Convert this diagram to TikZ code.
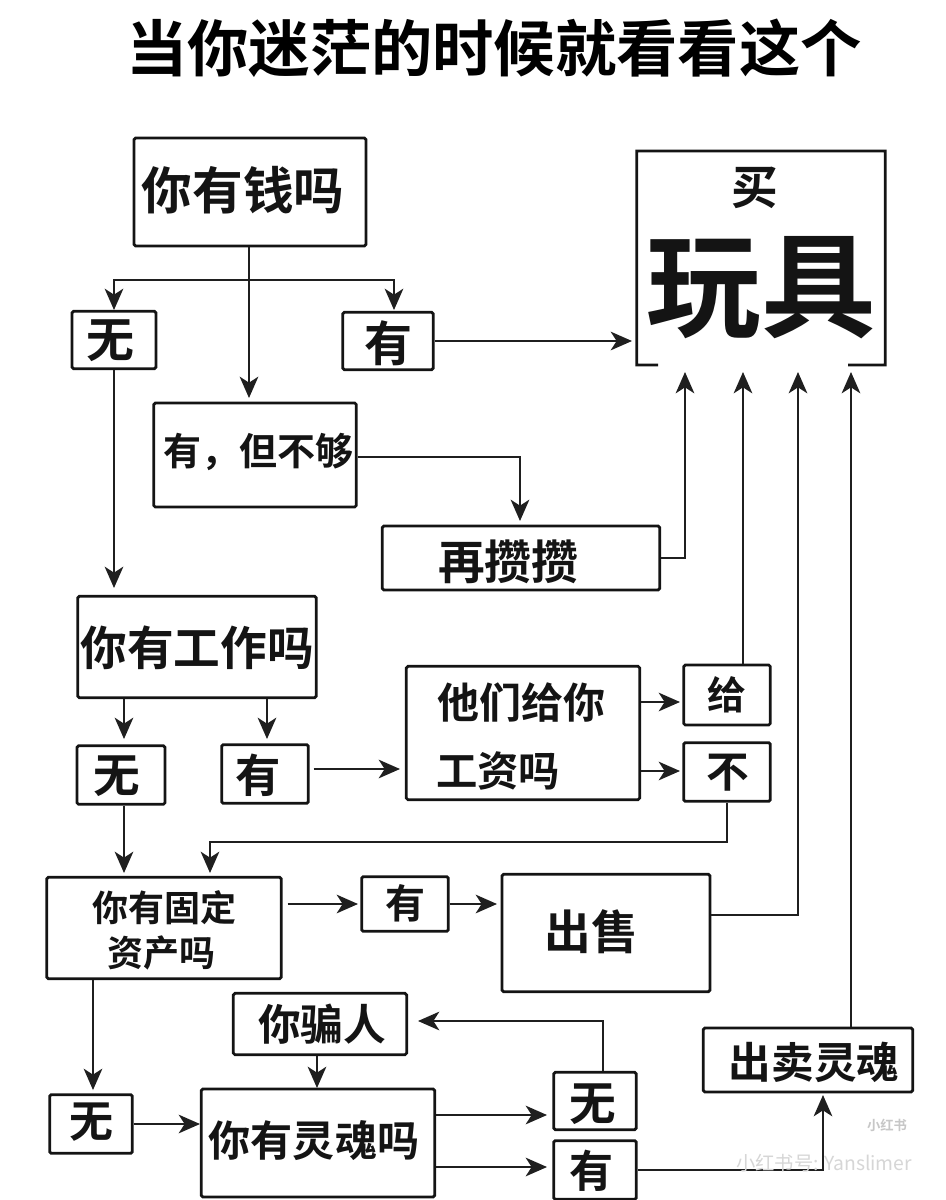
\documentclass[tikz,border=0pt]{standalone}
\usepackage{fontspec}
\newfontfamily\cjk{Noto Sans CJK SC}[BoldFont={Noto Sans CJK SC Bold}]
\usetikzlibrary{arrows.meta}
\tikzset{
 box/.style={draw=black!92,line width=2.1pt,fill=white,inner sep=0pt,rounded corners=1.2pt},
 lbl/.style={inner sep=0pt,text=black!92,align=center},
 conn/.style={draw=black!88,line width=1.3pt,-{Stealth[length=16pt,width=14pt,inset=4.5pt]}},
}
% name, box cx, cy, w, h, font size, text cx, cy, text
\newcommand{\bxt}[9]{%
 \node[box,minimum width=#4pt,minimum height=#5pt] (#1) at (#2,#3) {};
 \node[lbl,font=\cjk\bfseries\fontsize{#6}{#6}\selectfont] (#1t) at (#7,#8) {#9};}
\begin{document}
\begin{tikzpicture}[x=0.75pt,y=-0.75pt]
\useasboundingbox (0,0) rectangle (946,1200);
\fill[white] (0,0) rectangle (946,1200);
\node[lbl,font=\cjk\bfseries\fontsize{46}{46}\selectfont,text=black] (title) at (494,48) {当你迷茫的时候就看看这个};
\bxt{money}{250}{192}{174}{81}{38}{243}{190}{你有钱吗}
% the toy box is open along most of its bottom side
\node[minimum width=186pt,minimum height=160pt,inner sep=0pt] (toy) at (761,258) {};
\draw[black!92,line width=2.1pt] (658,365) -- (toy.south west) -- (toy.north west) -- (toy.north east) -- (toy.south east) -- (848,365);
\node[lbl,font=\cjk\bfseries\fontsize{35}{35}\selectfont] (buy) at (755,188) {买};
\node[lbl,font=\cjk\bfseries\fontsize{86}{86}\selectfont] (toyt) at (761,288) {玩具};
\bxt{no1}{114}{340}{63}{43}{36}{110}{341}{无}
\bxt{yes1}{388}{341}{68}{43}{36}{388}{343}{有}
\bxt{some}{255}{455}{152}{78}{28.5}{258}{452}{有，但不够}
\bxt{save}{521}{558}{208}{48}{35}{508}{562}{再攒攒}
\bxt{job}{197}{647}{179}{76}{35}{197}{648}{你有工作吗}
\bxt{no2}{121}{775}{66}{44}{35}{117}{776}{无}
\bxt{yes2}{265}{774}{65}{44}{34}{258}{775}{有}
\bxt{pay}{523}{733}{175}{100}{31.5}{521}{703}{他们给你}
\node[lbl,font=\cjk\bfseries\fontsize{31}{31}\selectfont] (pay2) at (498,771) {工资吗};
\bxt{give}{727}{695}{65}{45}{29}{727}{695}{给}
\bxt{nop}{727}{772}{65}{44}{32}{728}{773}{不}
\bxt{asset}{164}{928}{176}{76}{27}{164}{908}{你有固定}
\node[lbl,font=\cjk\bfseries\fontsize{27}{27}\selectfont] (asset2) at (161,953) {资产吗};
\bxt{yes3}{405}{904}{65}{41}{30}{405}{903}{有}
\bxt{sell}{606}{933}{156}{88}{35}{591}{932}{出售}
\bxt{cheat}{320}{1024}{130}{46}{32}{322}{1024}{你骗人}
\bxt{no3}{91}{1124}{62}{44}{33}{91}{1122}{无}
\bxt{soul}{318}{1143}{175}{81}{31.6}{314}{1141}{你有灵魂吗}
\bxt{no4}{595}{1101}{62}{43}{35}{593}{1104}{无}
\bxt{yes4}{595}{1170}{62}{44}{33}{591}{1171}{有}
\bxt{sellsoul}{808}{1060}{157}{48}{32}{814}{1062}{出卖灵魂}
% connectors
\coordinate (j1) at (249,280);
\draw[conn] (j1) -| (114,310);
\draw[conn] (j1) -| (394,310);
\draw[conn] (money.south -| 249,192) -- (249,398);
\draw[conn] (yes1.east) -- (632,341);
\draw[conn] (no1.south) -- (114,588);
\draw[conn] (some.east |- 0,457) -| (520,521);
\draw[conn] (save.east |- 0,558) -| (685,372);
\draw[conn] (give.north -| 743,670) -- (743,372);
\draw[conn] (job.south -| 124,685) -- (124,739);
\draw[conn] (job.south -| 267,685) -- (267,739);
\draw[conn] (yes2.east |- 0,769) ++(4,0) -- (400,769);
\draw[conn] (pay.east |- 0,702) -- (680,702);
\draw[conn] (pay.east |- 0,771) -- (680,771);
\draw[conn] (no2.south -| 124,0) -- (124,873);
\draw[conn] (nop.south) |- (210,842) -- (210,873);
\draw[conn] (asset.east |- 0,904) ++(5,0) -- (358,904);
\draw[conn] (yes3.east) -- (497,904);
\draw[conn] (sell.east |- 0,915) -| (798,372);
\draw[conn] (asset.south -| 93,966) -- (93,1090);
\draw[conn] (no3.east) -- (200,1124);
\draw[conn] (cheat.south -| 317,1047) -- (317,1088);
\draw[conn] (soul.east |- 0,1115) -- (547,1115);
\draw[conn] (soul.east |- 0,1167) -- (547,1167);
\draw[conn] (no4.north -| 603,1071) |- (418,1021);
\draw[conn] (yes4.east |- 0,1170) -| (823,1095);
\draw[conn] (sellsoul.north -| 851,1030) -- (851,372);
% watermark
\node[lbl,font=\cjk\fontsize{14.5}{14.5}\selectfont,text=black!16] (wm) at (824,1163) {小红书号: Yanslimer};
\node[lbl,font=\cjk\bfseries\fontsize{10}{10}\selectfont,text=black!22] (wm2) at (887,1125) {小红书};
\end{tikzpicture}
\end{document}
